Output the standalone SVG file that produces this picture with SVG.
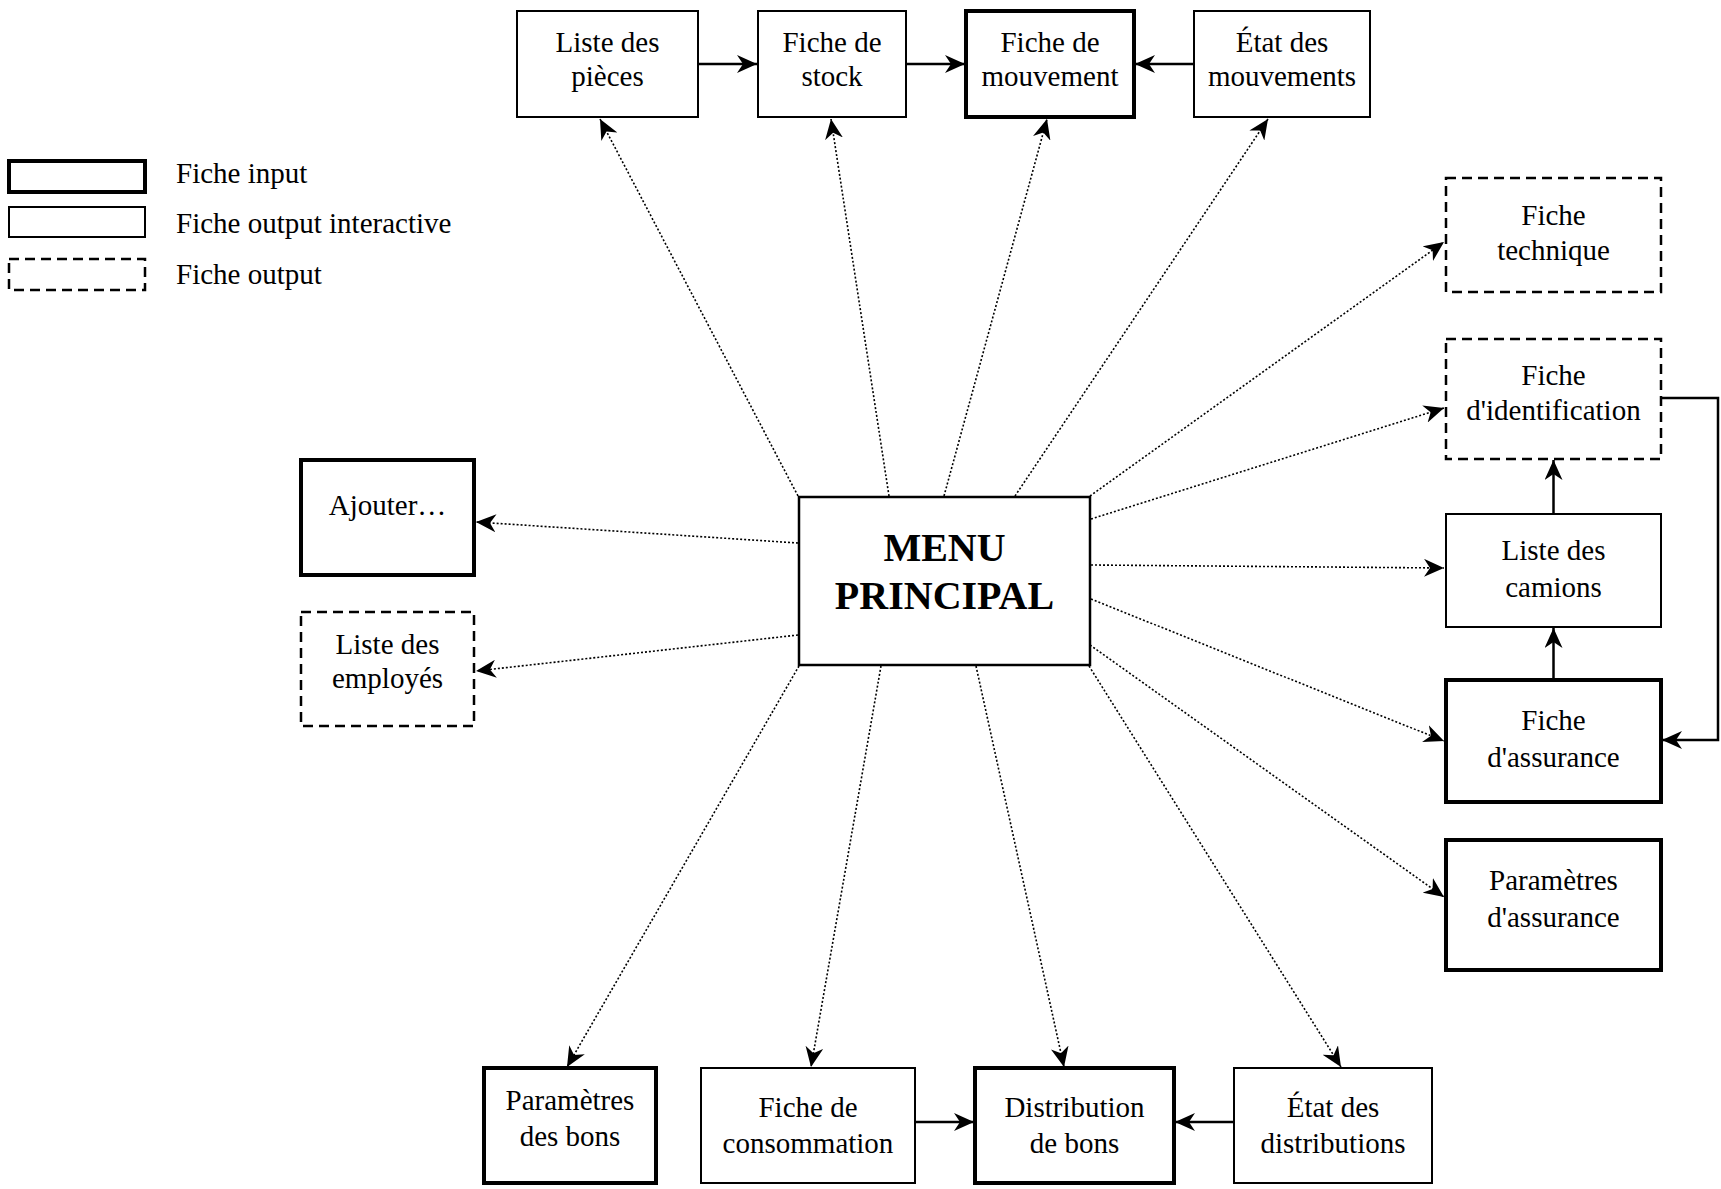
<svg xmlns="http://www.w3.org/2000/svg" width="1721" height="1189" viewBox="0 0 1721 1189">
<style>
text{font-family:"Liberation Serif","Times New Roman",serif;font-size:29px;fill:#000;text-anchor:middle}
.lg{text-anchor:start}
.menu{font-weight:bold;font-size:40px}
.box{fill:#fff;stroke:#000;stroke-width:2}
.in{fill:#fff;stroke:#000;stroke-width:4}
.out{fill:#fff;stroke:#000;stroke-width:2.5;stroke-dasharray:10 6}
.dot{fill:none;stroke:#000;stroke-width:1.6;stroke-dasharray:2 2;marker-end:url(#ah)}
.sol{fill:none;stroke:#000;stroke-width:2.5;marker-end:url(#ah)}
</style>
<defs>
<marker id="ah" viewBox="0 0 20 18" refX="20" refY="9" markerWidth="20" markerHeight="18" markerUnits="userSpaceOnUse" orient="auto">
<path d="M0,0 L20,9 L0,18 L6,9 z" fill="#000"/>
</marker>
</defs>
<rect width="1721" height="1189" fill="#fff"/>

<g id="legend">
<rect class="in" x="9" y="161" width="136" height="31"/>
<text class="lg" x="176" y="183">Fiche input</text>
<rect class="box" x="9" y="207" width="136" height="30"/>
<text class="lg" x="176" y="233">Fiche output interactive</text>
<rect class="out" x="9" y="259" width="136" height="31"/>
<text class="lg" x="176" y="284">Fiche output</text>
</g>

<g id="connectors">
<line class="sol" x1="698" y1="64" x2="757" y2="64"/>
<line class="sol" x1="906" y1="64" x2="965" y2="64"/>
<line class="sol" x1="1194" y1="64" x2="1135" y2="64"/>
<line class="sol" x1="915" y1="1122" x2="974" y2="1122"/>
<line class="sol" x1="1234" y1="1122" x2="1175" y2="1122"/>
<line class="sol" x1="1553.5" y1="513" x2="1553.5" y2="460"/>
<line class="sol" x1="1553.5" y1="679" x2="1553.5" y2="628"/>
<polyline class="sol" points="1661,398 1718,398 1718,740 1662,740"/>

<line class="dot" x1="798" y1="496" x2="600" y2="119"/>
<line class="dot" x1="889" y1="496" x2="831" y2="119"/>
<line class="dot" x1="944" y1="496" x2="1047" y2="119"/>
<line class="dot" x1="1015" y1="496" x2="1268" y2="119"/>
<line class="dot" x1="1090" y1="496" x2="1444" y2="242"/>
<line class="dot" x1="1091" y1="519" x2="1444" y2="408"/>
<line class="dot" x1="1091" y1="565" x2="1444" y2="568"/>
<line class="dot" x1="1091" y1="599" x2="1444" y2="741"/>
<line class="dot" x1="1090" y1="645" x2="1444" y2="897"/>
<line class="dot" x1="799" y1="666" x2="567" y2="1067"/>
<line class="dot" x1="881" y1="666" x2="811" y2="1067"/>
<line class="dot" x1="976" y1="666" x2="1064" y2="1067"/>
<line class="dot" x1="1089" y1="666" x2="1341" y2="1067"/>
<line class="dot" x1="798" y1="543" x2="476" y2="522"/>
<line class="dot" x1="798" y1="635" x2="476" y2="671"/>
</g>

<g id="menu">
<rect class="box" x="799" y="497" width="291" height="168" style="stroke-width:2.5"/>
<text class="menu" x="944.5" y="561">MENU</text>
<text class="menu" x="944.5" y="609">PRINCIPAL</text>
</g>

<g id="liste-pieces">
<rect class="box" x="517" y="11" width="181" height="106"/>
<text x="607.5" y="52">Liste des</text>
<text x="607.5" y="86">pièces</text>
</g>
<g id="fiche-stock">
<rect class="box" x="758" y="11" width="148" height="106"/>
<text x="832" y="52">Fiche de</text>
<text x="832" y="86">stock</text>
</g>
<g id="fiche-mouvement">
<rect class="in" x="966" y="11" width="168" height="106"/>
<text x="1050" y="52">Fiche de</text>
<text x="1050" y="86">mouvement</text>
</g>
<g id="etat-mouvements">
<rect class="box" x="1194" y="11" width="176" height="106"/>
<text x="1282" y="52">État des</text>
<text x="1282" y="86">mouvements</text>
</g>

<g id="fiche-technique">
<rect class="out" x="1446" y="178" width="215" height="114"/>
<text x="1553.5" y="225">Fiche</text>
<text x="1553.5" y="260">technique</text>
</g>
<g id="fiche-identification">
<rect class="out" x="1446" y="339" width="215" height="120"/>
<text x="1553.5" y="385">Fiche</text>
<text x="1553.5" y="420">d'identification</text>
</g>
<g id="liste-camions">
<rect class="box" x="1446" y="514" width="215" height="113"/>
<text x="1553.5" y="560">Liste des</text>
<text x="1553.5" y="597">camions</text>
</g>
<g id="fiche-assurance">
<rect class="in" x="1446" y="680" width="215" height="122"/>
<text x="1553.5" y="730">Fiche</text>
<text x="1553.5" y="767">d'assurance</text>
</g>
<g id="parametres-assurance">
<rect class="in" x="1446" y="840" width="215" height="130"/>
<text x="1553.5" y="890">Paramètres</text>
<text x="1553.5" y="927">d'assurance</text>
</g>

<g id="ajouter">
<rect class="in" x="301" y="460" width="173" height="115"/>
<text x="387.5" y="515">Ajouter…</text>
</g>
<g id="liste-employes">
<rect class="out" x="301" y="612" width="173" height="114"/>
<text x="387.5" y="654">Liste des</text>
<text x="387.5" y="688">employés</text>
</g>

<g id="parametres-bons">
<rect class="in" x="484" y="1068" width="172" height="115"/>
<text x="570" y="1110">Paramètres</text>
<text x="570" y="1146">des bons</text>
</g>
<g id="fiche-consommation">
<rect class="box" x="701" y="1068" width="214" height="115"/>
<text x="808" y="1117">Fiche de</text>
<text x="808" y="1153">consommation</text>
</g>
<g id="distribution-bons">
<rect class="in" x="975" y="1068" width="199" height="115"/>
<text x="1074.5" y="1117">Distribution</text>
<text x="1074.5" y="1153">de bons</text>
</g>
<g id="etat-distributions">
<rect class="box" x="1234" y="1068" width="198" height="115"/>
<text x="1333" y="1117">État des</text>
<text x="1333" y="1153">distributions</text>
</g>
</svg>
